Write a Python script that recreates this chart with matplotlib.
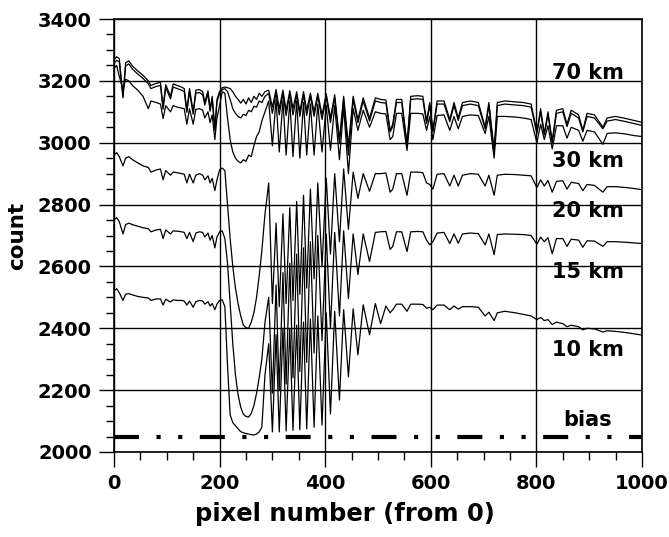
import matplotlib
matplotlib.use("Agg")
import matplotlib.pyplot as plt
from matplotlib.ticker import MultipleLocator

plt.rcParams["font.family"] = ["DejaVu Sans"]
plt.rcParams["font.weight"] = "bold"

pixels = [
    0, 5, 10, 17, 22, 28, 35, 45, 55, 65,
    70, 80, 88, 93, 98, 107, 112, 120, 128, 133,
    138, 143, 150, 155, 162, 168, 172, 178, 182, 186,
    191, 195, 200, 205,
    210, 215, 220, 225, 230, 235, 240, 245, 250, 255,
    260, 265, 270, 275, 280, 286,
    293, 300, 307, 313, 320, 326, 333, 339, 346, 352,
    359, 365, 372, 379, 386, 394, 402, 410, 418, 427,
    435, 444, 453, 462, 472, 484, 495,
    505, 515, 523, 528, 535, 545, 555, 562, 575, 585,
    592, 598, 604, 612, 625, 636, 644, 652, 660, 675,
    690, 703, 710, 720, 726, 740, 760, 775, 790, 801,
    808, 815, 822, 830, 838, 850, 858, 866, 880, 888,
    896, 910, 926, 934, 950, 970, 985, 1000,
]

counts_70km = [
    3268, 3278, 3272, 3150, 3258, 3265, 3248, 3232, 3218, 3200,
    3185, 3192, 3195, 3115, 3188, 3150, 3190, 3185, 3180, 3175,
    3105, 3175, 3100, 3170, 3172, 3165, 3130, 3168, 3110, 3150,
    3045, 3140, 3165, 3178,
    3180, 3178, 3175, 3165, 3150, 3140, 3128, 3140, 3125, 3145,
    3130, 3150, 3140, 3160, 3150, 3165,
    3170, 3115, 3172, 3110, 3170, 3105, 3168, 3110, 3165, 3100,
    3165, 3105, 3160, 3100, 3160, 3090, 3158, 3080, 3155, 3010,
    3150, 2990, 3150, 3075, 3145, 3080, 3145,
    3140, 3138, 3040, 3060, 3140, 3140, 2995, 3150, 3152, 3150,
    3070, 3130, 3040, 3135, 3135, 3075, 3130, 3080, 3130, 3135,
    3130, 3050, 3130, 2975, 3130, 3135, 3132, 3130, 3125, 3035,
    3110, 3030, 3100, 3005, 3105, 3110, 3060, 3105, 3090, 3040,
    3095, 3090, 3050, 3080, 3085, 3078, 3072, 3066,
]

counts_50km = [
    3258, 3266, 3262, 3145, 3248, 3255, 3238, 3222, 3208, 3190,
    3175, 3182, 3185, 3108, 3178, 3142, 3180, 3175, 3170, 3165,
    3098, 3165, 3092, 3160, 3162, 3155, 3122, 3158, 3102, 3140,
    3040, 3132, 3160, 3172,
    3175, 3165, 3140, 3110, 3095, 3085, 3080, 3092, 3088, 3105,
    3100, 3118, 3115, 3135, 3130, 3150,
    3160, 3095, 3162, 3090, 3160, 3088, 3158, 3090, 3155, 3085,
    3155, 3088, 3150, 3085, 3150, 3075, 3148, 3065, 3145, 3000,
    3140, 2960, 3140, 3065, 3135, 3070, 3135,
    3130, 3128, 3035, 3052, 3130, 3130, 2990, 3140, 3142, 3140,
    3062, 3120, 3035, 3125, 3125, 3068, 3120, 3072, 3120, 3125,
    3120, 3045, 3120, 2970, 3120, 3125, 3122, 3120, 3115, 3030,
    3100, 3025, 3090, 3000, 3095, 3100, 3052, 3095, 3080, 3035,
    3085, 3080, 3045, 3070, 3075, 3068, 3062, 3056,
]

counts_30km = [
    3240, 3250, 3215, 3170, 3205, 3200, 3185, 3170, 3150, 3110,
    3135, 3130, 3125, 3078, 3120, 3100, 3120, 3115, 3112, 3110,
    3060, 3110, 3060, 3108, 3110, 3105, 3080, 3100, 3065, 3090,
    3010, 3080, 3120, 3165,
    3160, 3080, 3010, 2970, 2950, 2940, 2935, 2945, 2940, 2960,
    2955, 2990, 3020, 3035, 3070, 3100,
    3135, 2990, 3140, 2970, 3138, 2960, 3135, 2955, 3135, 2950,
    3130, 2960, 3125, 2960, 3125, 2970, 3120, 2975, 3120, 2945,
    3115, 2900, 3110, 3040, 3105, 3050, 3100,
    3095, 3093, 3010, 3020, 3095, 3095, 2975, 3095, 3095, 3093,
    3040, 3085, 3010, 3088, 3090, 3040, 3085, 3045, 3085, 3090,
    3088, 3030, 3085, 2950, 3085, 3085, 3083, 3080, 3075, 3000,
    3060, 3010, 3055, 2980, 3055, 3055, 3015, 3050, 3040, 3005,
    3040, 3035, 2995, 3030, 3032, 3028, 3023, 3020,
]

counts_20km = [
    2960, 2968, 2955, 2925, 2950, 2955, 2945, 2935, 2925, 2920,
    2905, 2912, 2915, 2880, 2910, 2895, 2905, 2903, 2900, 2898,
    2870, 2898, 2870, 2895, 2900, 2895, 2880, 2893, 2870, 2885,
    2845, 2880, 2912, 2918,
    2910, 2800, 2690, 2600, 2530, 2480, 2440, 2410, 2402, 2400,
    2420, 2450, 2500, 2570, 2650, 2770,
    2870, 2480, 2740, 2470, 2770, 2480, 2790, 2490, 2810, 2510,
    2830, 2530, 2850, 2560, 2870, 2600, 2885, 2640, 2900, 2680,
    2915, 2720, 2905, 2820, 2900, 2843, 2900,
    2900, 2902, 2840, 2850, 2900, 2900, 2830, 2905, 2905, 2903,
    2870, 2865, 2850, 2898, 2900, 2860, 2895, 2860, 2895, 2900,
    2898, 2860, 2895, 2830, 2895, 2898, 2897, 2895, 2893, 2855,
    2880, 2860, 2878, 2840, 2875, 2877, 2850, 2872, 2868, 2845,
    2865, 2862, 2840, 2858, 2858, 2855, 2852, 2848,
]

counts_15km = [
    2750, 2758, 2745, 2705, 2735, 2740, 2735, 2730, 2725, 2722,
    2712, 2718, 2720, 2690, 2718, 2705, 2715, 2714, 2712, 2710,
    2690, 2710, 2680, 2708, 2712, 2710, 2695, 2708, 2685, 2700,
    2660, 2695, 2712, 2715,
    2690, 2610, 2480, 2350, 2250, 2185, 2145, 2122, 2115, 2113,
    2125, 2150, 2190, 2240, 2300, 2420,
    2500, 2190, 2540, 2200, 2580, 2220, 2610, 2240, 2640, 2260,
    2660, 2290, 2680, 2320, 2700, 2360, 2705, 2400, 2710, 2440,
    2715, 2496, 2705, 2574, 2705, 2616, 2710,
    2712, 2713, 2655, 2665, 2712, 2712, 2648, 2712, 2713, 2712,
    2685, 2670, 2680, 2708, 2710, 2674, 2705, 2675, 2705, 2708,
    2706, 2670, 2705, 2638, 2703, 2705, 2704, 2703, 2700, 2672,
    2695, 2680, 2693, 2641, 2690, 2690, 2665, 2688, 2685, 2662,
    2683, 2682, 2665, 2680, 2680, 2678, 2676, 2674,
]

counts_10km = [
    2520, 2528, 2515, 2490, 2510, 2512, 2508, 2503, 2500, 2498,
    2490, 2495, 2495, 2475, 2494, 2485, 2492, 2490, 2490, 2488,
    2475, 2488, 2468, 2486, 2490, 2488, 2478, 2486, 2472, 2480,
    2460, 2478, 2490, 2492,
    2470, 2280, 2120, 2095, 2085, 2075, 2066, 2062, 2060, 2058,
    2056, 2055, 2058, 2065, 2080, 2250,
    2350, 2065, 2380, 2065, 2400, 2068, 2400, 2070, 2410, 2072,
    2420, 2075, 2430, 2080, 2440, 2087, 2450, 2123, 2455, 2168,
    2460, 2243, 2463, 2314, 2476, 2379, 2480,
    2415, 2472, 2450, 2460, 2478, 2478, 2455, 2478, 2478, 2477,
    2465, 2468, 2460, 2475, 2475, 2460, 2472, 2462, 2470, 2470,
    2468, 2440, 2452, 2425, 2450, 2455, 2450, 2445, 2440, 2428,
    2435, 2425, 2428, 2412, 2420, 2415, 2405, 2410, 2405, 2395,
    2400, 2398, 2388, 2392, 2390, 2386, 2382, 2378,
]

bias_pixels = [0, 1000]
bias_counts = [2048, 2048]

label_texts = ["70 km", "30 km", "20 km", "15 km", "10 km", "bias"]
label_counts = [3225, 2940, 2778, 2583, 2330, 2104]

fig = plt.figure(figsize=(6.69, 5.37), dpi=100)
ax = fig.add_axes([0.1704, 0.1583, 0.7892, 0.8063])

for series in [counts_70km, counts_50km, counts_30km,
               counts_20km, counts_15km, counts_10km]:
    ax.plot(pixels, series, color="black", lw=0.9)

ax.plot(bias_pixels, bias_counts, color="black", lw=3,
        dashes=(6, 4.2, 1, 4.2, 1, 4.2))

for txt, c in zip(label_texts, label_counts):
    ax.text(897, c, txt, ha="center", va="center", fontsize=15,
            fontweight="bold")

ax.set_xlim(0, 1000)
ax.set_ylim(2000, 3400)
ax.xaxis.set_major_locator(MultipleLocator(200))
ax.xaxis.set_minor_locator(MultipleLocator(50))
ax.yaxis.set_major_locator(MultipleLocator(200))
ax.yaxis.set_minor_locator(MultipleLocator(50))
ax.tick_params(which="major", direction="out", length=11, width=1,
               labelsize=14, pad=5)
ax.tick_params(which="minor", direction="out", length=6, width=1)
ax.grid(True, which="major", color="black", lw=1)
for s in ax.spines.values():
    s.set_linewidth(1.2)

ax.set_xlabel("pixel number (from 0)", fontsize=17.5, fontweight="bold",
              labelpad=6)
ax.xaxis.set_label_coords(0.4375, -0.115)
ax.set_ylabel("count", fontsize=15.5, fontweight="bold", labelpad=8)

fig.savefig("out.png", dpi=100)
